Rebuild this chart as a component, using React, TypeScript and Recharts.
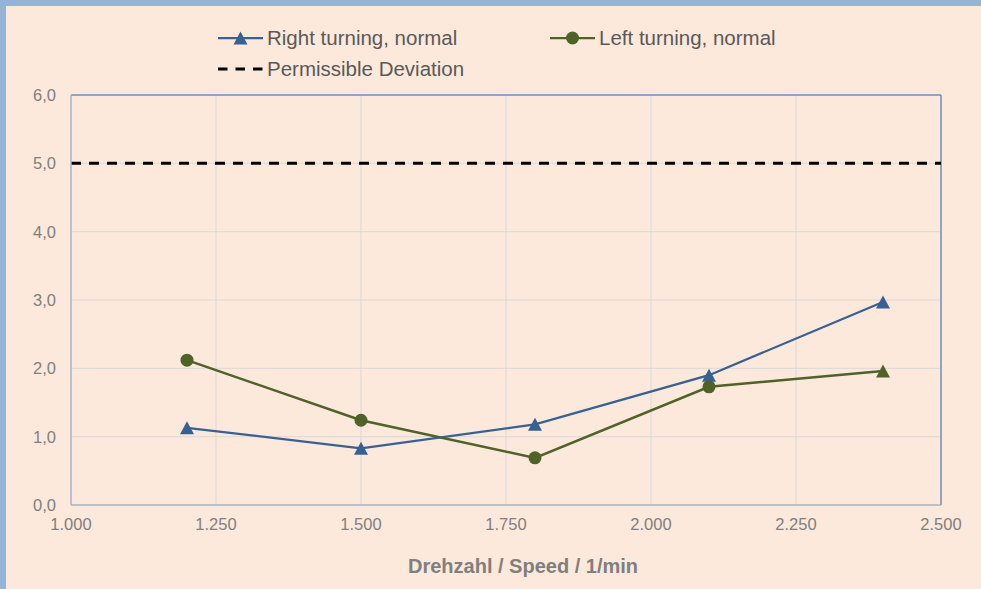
import { CartesianGrid, Line, LineChart, ReferenceLine, XAxis, YAxis } from "recharts";

const speeds = [1200, 1500, 1800, 2100, 2400];
const rightTurningNormal = [1.13, 0.83, 1.18, 1.9, 2.97];
const leftTurningNormal = [2.12, 1.24, 0.69, 1.73, 1.96];
const permissibleDeviation = 5.0;

const xTicks = [1000, 1250, 1500, 1750, 2000, 2250, 2500];
const yTicks = [0, 1, 2, 3, 4, 5, 6];

const data = speeds.map((speed, i) => ({
  speed,
  right: rightTurningNormal[i],
  left: leftTurningNormal[i]
}));

const BLUE = "#376095";
const GREEN = "#4F6228";
const FONT = "'Liberation Sans', Arial, sans-serif";

const fmtX = (v: number) => `${Math.floor(v / 1000)}.${String(v % 1000).padStart(3, "0")}`;
const fmtY = (v: number) => v.toFixed(1).replace(".", ",");

function Triangle({ cx, cy, fill }: { cx: number; cy: number; fill: string }) {
  return <polygon points={`${cx},${cy - 6.5} ${cx - 7},${cy + 6.5} ${cx + 7},${cy + 6.5}`} fill={fill} />;
}

const blueDot = (p: any) => <Triangle key={`b${p.index}`} cx={p.cx} cy={p.cy} fill={BLUE} />;

// last green point is drawn as a triangle in the original
const greenDot = (p: any) =>
  p.index === speeds.length - 1 ? (
    <Triangle key={`g${p.index}`} cx={p.cx} cy={p.cy} fill={GREEN} />
  ) : (
    <circle key={`g${p.index}`} cx={p.cx} cy={p.cy} r={6.5} fill={GREEN} />
  );

function LegendItem({ kind, label }: { kind: "right" | "left" | "dash"; label: string }) {
  return (
    <div style={{ display: "flex", alignItems: "center", whiteSpace: "nowrap" }}>
      <svg width={45} height={16} style={{ marginRight: 4 }}>
        {kind === "dash" ? (
          <line x1={0} y1={8} x2={45} y2={8} stroke="#000" strokeWidth={3} strokeDasharray="9.5 8" />
        ) : (
          <line x1={0} y1={8} x2={45} y2={8} stroke={kind === "right" ? BLUE : GREEN} strokeWidth={2.25} />
        )}
        {kind === "right" && <Triangle cx={22.5} cy={8} fill={BLUE} />}
        {kind === "left" && <circle cx={22.5} cy={8} r={6.5} fill={GREEN} />}
      </svg>
      <span>{label}</span>
    </div>
  );
}

export default function App() {
  return (
    <div
      style={{
        position: "absolute",
        left: 0,
        top: 0,
        width: 981,
        height: 589,
        background: "#FCE9DB",
        fontFamily: FONT,
        overflow: "hidden"
      }}
    >
      <div style={{ position: "absolute", left: 0, top: 0, width: 6, height: 589, background: "#95B3D7" }} />
      <div style={{ position: "absolute", left: 0, top: 0, width: 981, height: 6, background: "#95B3D7" }} />

      <LineChart
        width={981}
        height={589}
        data={data}
        margin={{ top: 95, right: 40, bottom: 0, left: 0 }}
        style={{ position: "absolute", left: 0, top: 0 }}
      >
        <CartesianGrid stroke="#D9D9D9" strokeWidth={1} />
        <XAxis
          type="number"
          dataKey="speed"
          domain={[1000, 2500]}
          ticks={xTicks}
          tickFormatter={fmtX}
          height={84}
          tickLine={false}
          tickSize={0}
          tickMargin={13}
          axisLine={{ stroke: "#ADB6C2", strokeWidth: 1.5 }}
          tick={{ fill: "#7F7F7F", fontSize: 16.5, fontFamily: FONT }}
          label={{
            content: () => (
              <text
                x={523}
                y={573}
                textAnchor="middle"
                fill="#7F7F7F"
                fontSize={20}
                fontWeight="bold"
                fontFamily={FONT}
              >
                Drehzahl / Speed / 1/min
              </text>
            )
          }}
        />
        <YAxis
          type="number"
          domain={[0, 6]}
          ticks={yTicks}
          tickFormatter={fmtY}
          width={71}
          tickLine={false}
          tickSize={0}
          tickMargin={15}
          axisLine={{ stroke: "#A7B7CF", strokeWidth: 1.5 }}
          tick={{ fill: "#7F7F7F", fontSize: 16.5, fontFamily: FONT }}
        />
        <ReferenceLine y={6} stroke="#6F90BF" strokeWidth={1.5} />
        <ReferenceLine x={2500} stroke="#6F90BF" strokeWidth={1.5} />
        <ReferenceLine y={permissibleDeviation} stroke="#000" strokeWidth={3} strokeDasharray="10 8" />
        <Line
          dataKey="right"
          stroke={BLUE}
          strokeWidth={2.25}
          dot={blueDot}
          activeDot={false}
          isAnimationActive={false}
        />
        <Line
          dataKey="left"
          stroke={GREEN}
          strokeWidth={2.5}
          dot={greenDot}
          activeDot={false}
          isAnimationActive={false}
        />
      </LineChart>

      <div style={{ position: "absolute", left: 218, top: 26, fontSize: 20.5, color: "#595959", lineHeight: "24px" }}>
        <LegendItem kind="right" label="Right turning, normal" />
      </div>
      <div style={{ position: "absolute", left: 550, top: 26, fontSize: 20.5, color: "#595959", lineHeight: "24px" }}>
        <LegendItem kind="left" label="Left turning, normal" />
      </div>
      <div style={{ position: "absolute", left: 218, top: 57, fontSize: 20.5, color: "#595959", lineHeight: "24px" }}>
        <LegendItem kind="dash" label="Permissible Deviation" />
      </div>
    </div>
  );
}
